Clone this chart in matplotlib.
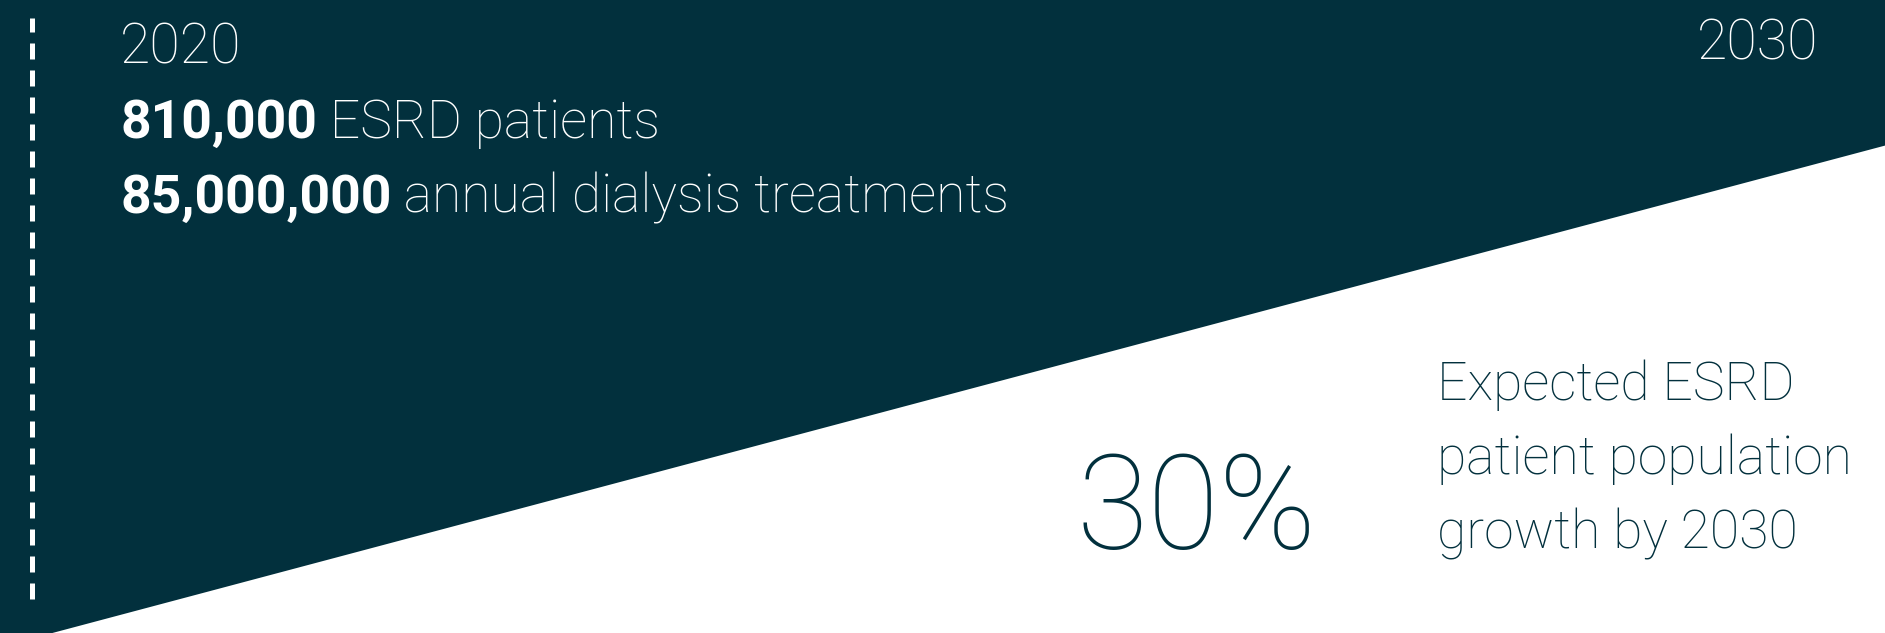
import matplotlib.pyplot as plt

# data
years = [2020, 2030]
boundary = [0, 77.1]          # white wedge height (% of panel) at each year
growth_pct = 30
patients_2020 = "810,000"
treatments_2020 = "85,000,000"
start_label = "2020"
end_label = "2030"
growth_text = ["Expected ESRD", "patient population", "growth by 2030"]

DARK = "#02303d"
W, H = 1885, 633
FONT = "Roboto"

fig = plt.figure(figsize=(W / 100, H / 100), dpi=100)
ax = fig.add_axes([0, 0, 1, 1])
ax.set_facecolor(DARK)
px_per_year = (W - 50) / (years[1] - years[0])
ax.set_xlim(years[0] - 50 / px_per_year, years[1])
ax.set_ylim(0, 100)
ax.axis("off")
ax.add_patch(plt.Rectangle((0, 0), 1, 1, transform=ax.transAxes, color=DARK, zorder=0))

# white wedge
ax.fill_between(years, 0, boundary, color="white", lw=0, zorder=1)

# dashed marker near 2020
xd = years[0] - 18 / px_per_year
ax.plot([xd, xd], [5.3, 97.2], color="white", lw=3.6, dashes=(3.2, 2.2),
        solid_capstyle="butt", dash_capstyle="butt", zorder=2)

tx = lambda px: px / W
ty = lambda px: 1 - px / H

ax.text(tx(120), ty(63), start_label, transform=ax.transAxes, color="white",
        fontsize=40, family=FONT, fontweight="light", va="baseline")
ax.text(tx(1818), ty(60), end_label, transform=ax.transAxes, color="white",
        fontsize=40, family=FONT, fontweight="light", va="baseline", ha="right")

fig.canvas.draw()
r = fig.canvas.get_renderer()
for y, num, rest in [(138, patients_2020, " ESRD patients"),
                     (213, treatments_2020, " annual dialysis treatments")]:
    b = ax.text(tx(120), ty(y), num, transform=ax.transAxes, color="white",
                fontsize=38.5, family=FONT, fontweight="bold", va="baseline")
    ext = b.get_window_extent(r)
    ax.text(ext.x1 / W, ty(y), rest, transform=ax.transAxes, color="white",
            fontsize=38.5, family=FONT, fontweight="light", va="baseline")

ax.text(tx(1076), ty(549), f"{growth_pct}%", transform=ax.transAxes, color=DARK,
        fontsize=94, family=FONT, fontweight="light", va="baseline")
for i, line in enumerate(growth_text):
    ax.text(tx(1437), ty(400 + i * 74), line, transform=ax.transAxes, color=DARK,
            fontsize=38.5, family=FONT, fontweight="light", va="baseline")

fig.savefig("out.png", dpi=100, facecolor=DARK)
